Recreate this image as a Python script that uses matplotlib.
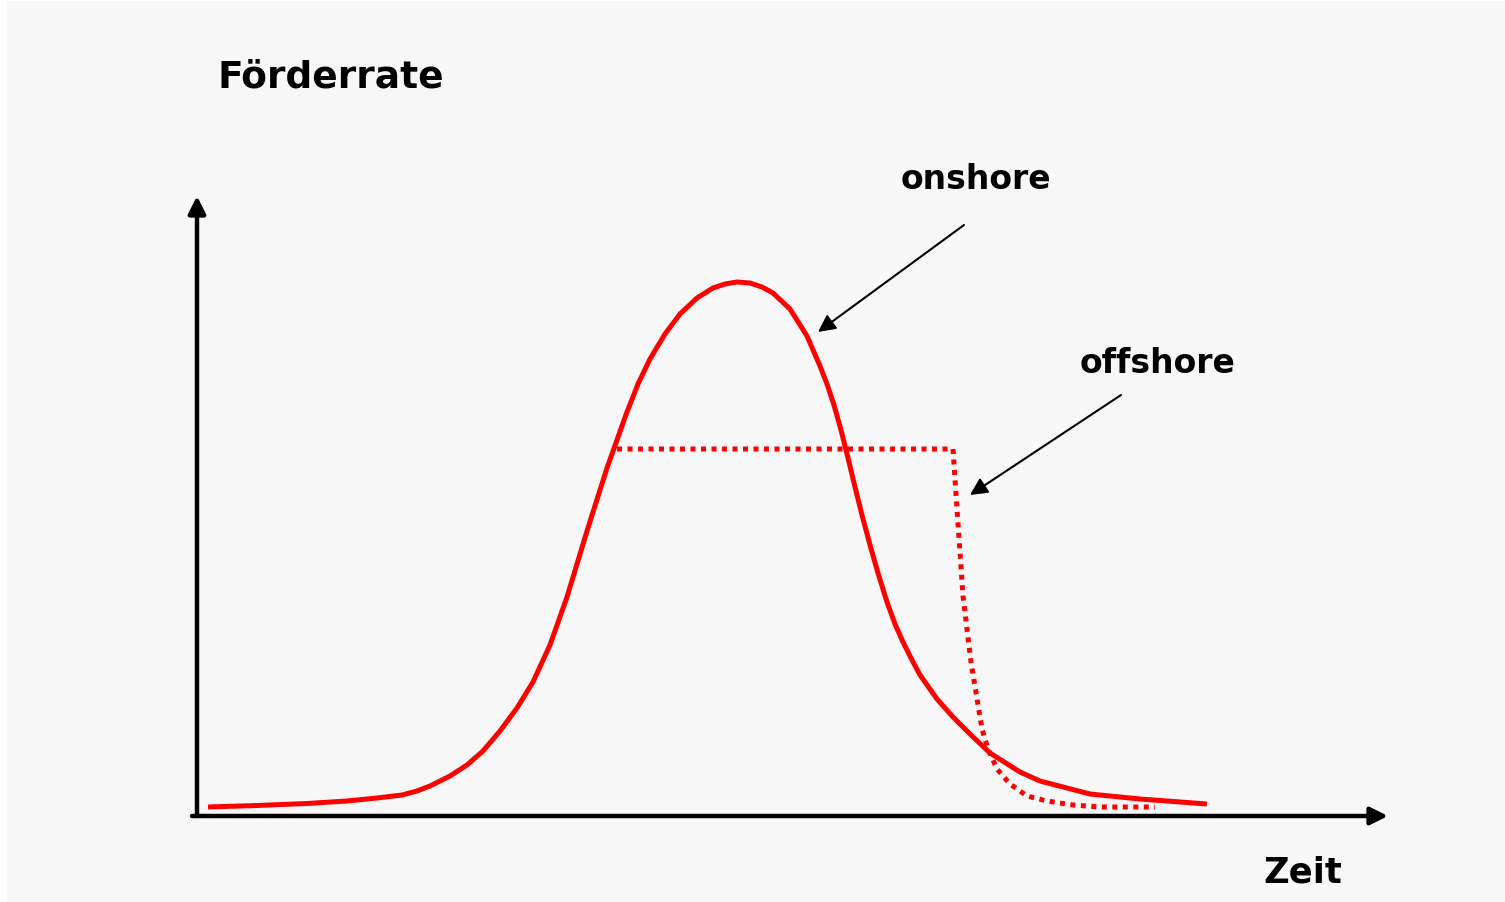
import matplotlib
matplotlib.use("Agg")
import matplotlib.pyplot as plt
from matplotlib.patches import Rectangle

# values, in arbitrary units (time, production rate)
onshore_t = [11, 60, 110, 150, 180, 205, 220, 233, 253, 270, 286, 303, 320,
             336, 353, 370, 390, 410, 420, 430, 441, 453, 468, 483, 500, 516,
             528, 540, 553, 565, 576, 593, 610, 623, 630, 637, 644, 651, 658,
             665, 673, 681, 690, 698, 706, 714, 723, 740, 756, 773, 793, 823,
             843, 893, 943, 1010]
onshore_r = [9, 10.5, 12.5, 15, 18, 21, 25, 30, 40, 51, 65, 85, 108,
             134, 171, 219, 285, 348, 376, 404, 432, 457, 482, 502, 518, 528,
             532, 534, 533, 529, 523, 507, 480, 450, 432, 411, 386, 358, 329,
             301, 271, 243, 214, 192, 174, 158, 141, 117, 99, 82, 63, 44,
             35, 22, 17, 12]

# offshore: plateau, then sharp decline
offshore_t = [420, 756, 760, 766, 774, 785, 791, 800, 813, 830, 850, 876, 903, 958]
offshore_r = [367, 367, 307, 220, 154, 87, 67, 47, 32, 20, 15, 11, 9, 9]

W, H = 1505, 903
fig = plt.figure(figsize=(W / 100, H / 100), dpi=100, facecolor="white")
fig.patches.append(Rectangle((7 / W, 0), 1 - 7 / W, 1 - 2 / H,
                             transform=fig.transFigure, facecolor="#f7f7f7",
                             edgecolor="none", zorder=-5))

ax = fig.add_axes([197 / W, 1 - 817 / H, 1191 / W, 620 / H])
ax.set_xlim(0, 1191)
ax.set_ylim(0, 620)
ax.axis("off")

red = "#ff0000"
ax.plot(onshore_t, onshore_r, color=red, lw=3.6, solid_capstyle="butt",
        solid_joinstyle="round", clip_on=False)
ax.plot(offshore_t, offshore_r, color=red, lw=3.6, linestyle=(0, (1, 1.1)),
        dash_capstyle="butt", clip_on=False)

# axis arrows
axis_arrow = dict(arrowstyle="-|>", mutation_scale=26, lw=3.2, color="black",
                  shrinkA=0, shrinkB=0)
ax.annotate("", xy=(0, 1), xytext=(0, 0), xycoords="axes fraction",
            arrowprops=axis_arrow, annotation_clip=False)
ax.annotate("", xy=(1, 0), xytext=(-5 / 1191, 0), xycoords="axes fraction",
            arrowprops=axis_arrow, annotation_clip=False)

# pointer arrows
pointer = dict(arrowstyle="-|>", mutation_scale=26, lw=1.5, color="black",
               shrinkA=0, shrinkB=0)
ax.annotate("", xy=(621, 484), xytext=(767, 591), arrowprops=pointer,
            annotation_clip=False)
ax.annotate("", xy=(773, 321), xytext=(924, 421), arrowprops=pointer,
            annotation_clip=False)

font = dict(family="DejaVu Sans", fontweight="bold", color="black")
fig.text(217 / W, 1 - 88 / H, "Förderrate", fontsize=27, va="baseline", **font)
fig.text(1263 / W, 1 - 883 / H, "Zeit", fontsize=25.5, va="baseline", **font)
fig.text(901 / W, 1 - 189 / H, "onshore", fontsize=23.8, va="baseline", **font)
fig.text(1080 / W, 1 - 373 / H, "offshore", fontsize=23.8, va="baseline", **font)

fig.savefig("out.png", dpi=100, facecolor=fig.get_facecolor())
